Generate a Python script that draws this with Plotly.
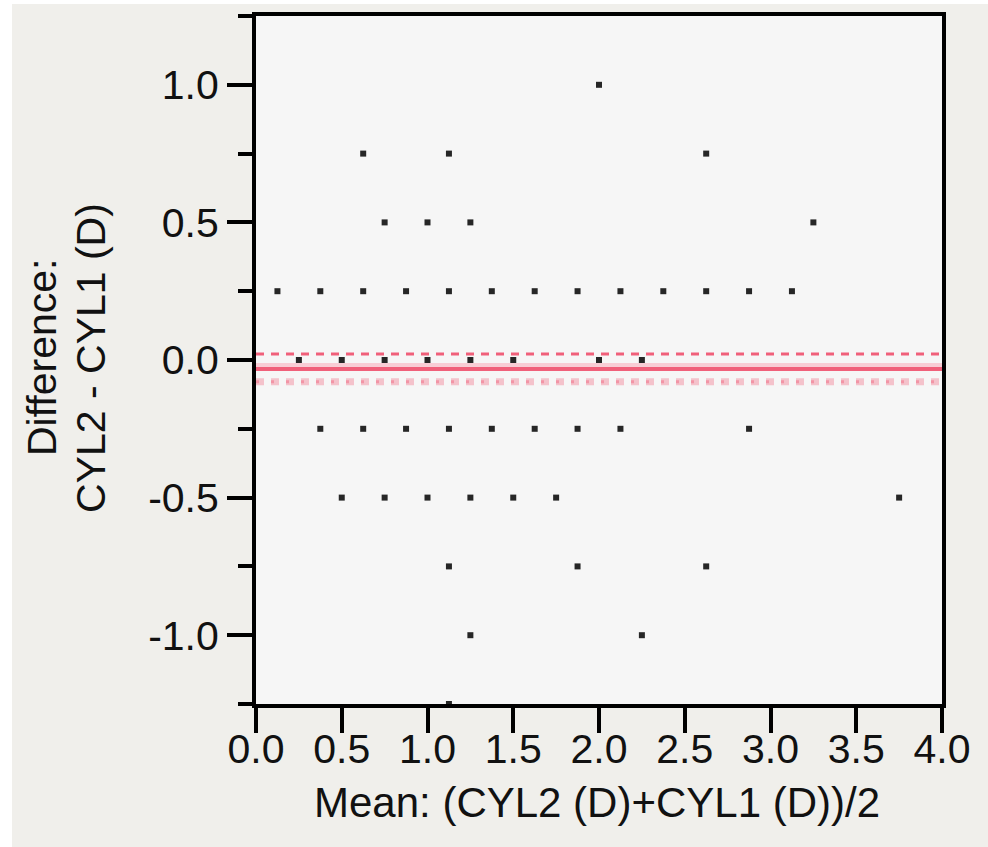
import plotly.graph_objects as go

# Bland-Altman data: mean of the two measurements (x) and their difference (y)
diff_rows = [1.0, 0.75, 0.5, 0.25, 0.0, -0.25, -0.5, -0.75, -1.0, -1.25]
mean_rows = [
    [2.0],
    [0.625, 1.125, 2.625],
    [0.75, 1.0, 1.25, 3.25],
    [0.125, 0.375, 0.625, 0.875, 1.125, 1.375, 1.625, 1.875, 2.125, 2.375, 2.625, 2.875, 3.125],
    [0.25, 0.5, 0.75, 1.0, 1.25, 1.5, 2.0, 2.25],
    [0.375, 0.625, 0.875, 1.125, 1.375, 1.625, 1.875, 2.125, 2.875],
    [0.5, 0.75, 1.0, 1.25, 1.5, 1.75, 3.75],
    [1.125, 1.875, 2.625],
    [1.25, 2.25],
    [1.125],
]

mean_diff = -0.033
upper_ci = 0.022
lower_ci = -0.079

x_ticks = [0.0, 0.5, 1.0, 1.5, 2.0, 2.5, 3.0, 3.5, 4.0]
x_ticktext = ["0.0", "0.5", "1.0", "1.5", "2.0", "2.5", "3.0", "3.5", "4.0"]
y_ticks = [-1.0, -0.5, 0.0, 0.5, 1.0]
y_ticktext = ["-1.0", "-0.5", "0.0", "0.5", "1.0"]

x_title = "Mean: (CYL2 (D)+CYL1 (D))/2"
y_title_lines = ["Difference:", "CYL2 - CYL1 (D)"]

xs, ys = [], []
for d, row in zip(diff_rows, mean_rows):
    for m in row:
        xs.append(m)
        ys.append(d)

FONT = "Liberation Sans, Arial, Helvetica, sans-serif"
RED = "#f0607a"
TXT = "#111111"

# layout geometry (pixels)
W, H = 988, 847
ML, MR, MT, MB = 256, 46, 16, 143
PW, PH = W - ML - MR, H - MT - MB


def px_x(p):
    return (p - ML) / PW


def px_y(p):
    return (H - MB - p) / PH


fig = go.Figure()
x_span = [x_ticks[0], x_ticks[-1]]

fig.add_trace(go.Scatter(x=x_span, y=[mean_diff + 0.015] * 2, mode="lines",
                         line=dict(color="#f8cdd5", width=4), hoverinfo="skip", showlegend=False))
fig.add_trace(go.Scatter(x=x_span, y=[lower_ci] * 2, mode="lines",
                         line=dict(color="rgba(240,96,122,0.35)", width=7, dash="8px,7px"),
                         hoverinfo="skip", showlegend=False))
fig.add_trace(go.Scatter(x=x_span, y=[lower_ci] * 2, mode="lines",
                         line=dict(color="rgba(240,96,122,0.45)", width=3, dash="3px,12px"),
                         hoverinfo="skip", showlegend=False))
fig.add_trace(go.Scatter(x=x_span, y=[upper_ci] * 2, mode="lines",
                         line=dict(color=RED, width=3, dash="8px,7px"),
                         hoverinfo="skip", showlegend=False))
fig.add_trace(go.Scatter(x=x_span, y=[mean_diff] * 2, mode="lines",
                         line=dict(color=RED, width=4), hoverinfo="skip", showlegend=False))
fig.add_trace(go.Scatter(x=xs, y=ys, mode="markers",
                         marker=dict(symbol="square", size=6, color="#262626", line=dict(width=0)),
                         showlegend=False))

axis_common = dict(
    showline=True, linecolor="black", linewidth=4, mirror=True,
    ticks="outside", ticklen=25, tickwidth=4, tickcolor="black",
    showgrid=False, zeroline=False,
    tickfont=dict(family=FONT, size=41, color=TXT),
    tickmode="array",
)

annotations = [
    dict(text=x_title, xref="paper", yref="paper", x=px_x(597), y=px_y(802),
         xanchor="center", yanchor="middle", showarrow=False,
         font=dict(family=FONT, size=42, color=TXT)),
    dict(text=y_title_lines[0], xref="paper", yref="paper", x=px_x(42), y=px_y(357),
         xanchor="center", yanchor="middle", showarrow=False, textangle=-90,
         font=dict(family=FONT, size=41, color=TXT)),
    dict(text=y_title_lines[1], xref="paper", yref="paper", x=px_x(91), y=px_y(358),
         xanchor="center", yanchor="middle", showarrow=False, textangle=-90,
         font=dict(family=FONT, size=41, color=TXT)),
]

fig.update_layout(
    width=W, height=H,
    margin=dict(l=ML, r=MR, t=MT, b=MB, pad=0),
    paper_bgcolor="#f0efeb",
    plot_bgcolor="#f6f6f6",
    font=dict(family=FONT, color=TXT),
    xaxis=dict(range=[0, 4], tickvals=x_ticks, ticktext=x_ticktext,
               ticklabelstandoff=-19, **axis_common),
    yaxis=dict(
        range=[-1.25, 1.25], tickvals=y_ticks, ticktext=y_ticktext,
        minor=dict(tickmode="linear", tick0=0, dtick=0.25, ticks="outside",
                   ticklen=14, tickwidth=4, tickcolor="black", showgrid=False),
        **axis_common,
    ),
    annotations=annotations,
    shapes=[
        dict(type="rect", xref="paper", yref="paper", x0=-0.5, x1=px_x(12),
             y0=-0.3, y1=1.1, fillcolor="white", line=dict(width=0), layer="above"),
        dict(type="rect", xref="paper", yref="paper", x0=-0.5, x1=1.2,
             y0=px_y(4), y1=1.1, fillcolor="white", line=dict(width=0), layer="above"),
    ],
)

fig.write_html(
    "out.html",
    config={"displayModeBar": False},
    post_script=(
        "document.body.style.margin='0';"
        "document.body.style.overflow='hidden';"
        "document.body.style.background='#f0efeb';"
    ),
)
